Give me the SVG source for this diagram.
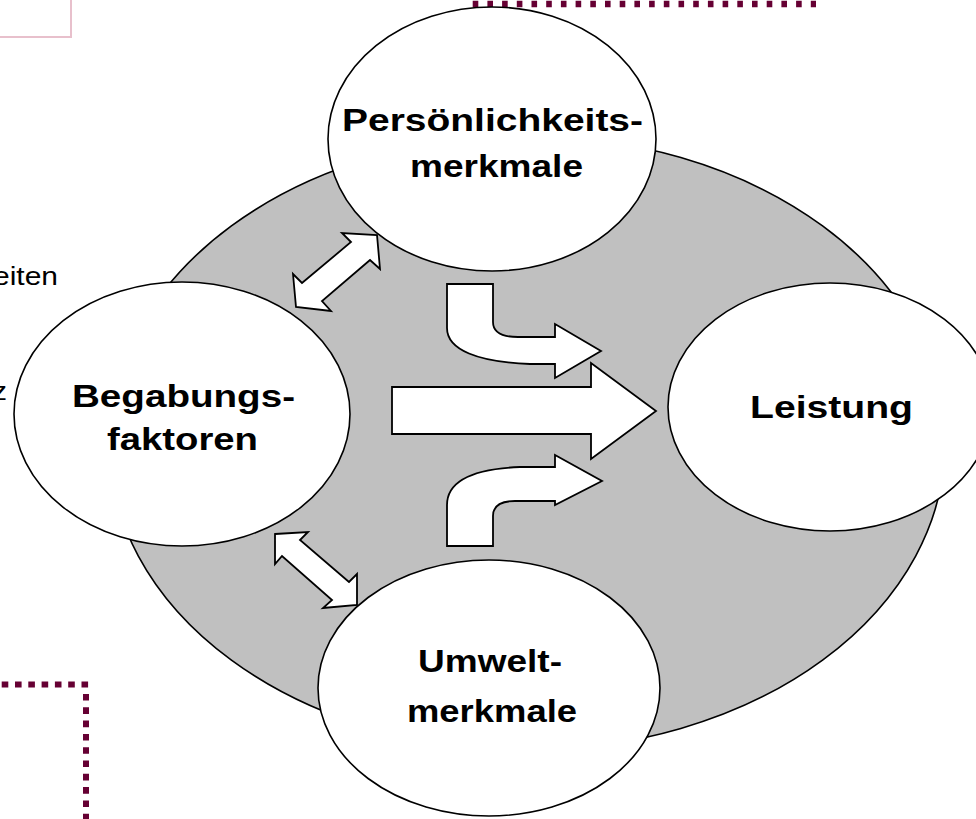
<svg xmlns="http://www.w3.org/2000/svg" width="976" height="819" viewBox="0 0 976 819">
<style>
.node{fill:#ffffff;stroke:#000000;stroke-width:1.6}
.arrow{fill:#ffffff;stroke:#000000;stroke-width:1.8;stroke-linejoin:miter}
.lbl{font-family:"Liberation Sans",Arial,sans-serif;font-weight:bold;font-size:32px;fill:#000000}
.side{font-family:"Liberation Sans",Arial,sans-serif;font-size:25px;fill:#000000}
.dot{stroke:#660033;fill:none}
</style>
<rect width="976" height="819" fill="#ffffff"/>
<g id="background">
<polyline points="0,37 71,37 71,0" fill="none" stroke="#e8c0cc" stroke-width="2"/>
<line class="dot" x1="472.7" y1="4" x2="816" y2="4" stroke-width="6.3" stroke-dasharray="5.6 9.1"/>
<line class="dot" x1="1.7" y1="684.5" x2="90" y2="684.5" stroke-width="6" stroke-dasharray="6.6 6.7"/>
<line class="dot" x1="86" y1="694" x2="86" y2="819" stroke-width="6" stroke-dasharray="6.6 6.7"/>
<text class="side" x="-7" y="285" textLength="65" lengthAdjust="spacingAndGlyphs">eiten</text>
<text class="side" x="-8" y="400" textLength="15" lengthAdjust="spacingAndGlyphs">z</text>
<ellipse id="context" cx="527" cy="443" rx="418" ry="307" fill="#c0c0c0" stroke="#000000" stroke-width="1.6"/>
</g>
<g id="connectors">
<polygon class="arrow" points="377,235 380,269 370,260 322,301 331,311 296,307 293,274 302,283 351,242 342,233"/>
<polygon class="arrow" points="275,534 308,532 300,540 349,582 357,574 357,605 323,608 332,600 282,556 275,564"/>
<polygon class="arrow" points="392,387 591,387 591,363 656,411 591,459 591,434 392,434"/>
<path class="arrow" d="M447,284 L493,284 L493,322 C493,333 502,337 518,337 L555,337 L555,324 L601,351 L555,378 L555,364 L530,364 C478,362 447,350 447,328 Z"/>
<path class="arrow" d="M447,546 L447,505 C447,482 470,469 520,467 L555,467 L555,455 L602,481 L555,505 L555,501 L515,501 C500,501 493,506 493,516 L493,546 Z"/>
</g>
<g id="persoenlichkeit">
<ellipse class="node" cx="492" cy="139" rx="164" ry="132"/>
<text class="lbl" x="342" y="131" textLength="301" lengthAdjust="spacingAndGlyphs">Persönlichkeits-</text>
<text class="lbl" x="410" y="177" textLength="173" lengthAdjust="spacingAndGlyphs">merkmale</text>
</g>
<g id="begabung">
<ellipse class="node" cx="182" cy="414" rx="168" ry="132"/>
<text class="lbl" x="72" y="407" textLength="223" lengthAdjust="spacingAndGlyphs">Begabungs-</text>
<text class="lbl" x="107" y="450" textLength="151" lengthAdjust="spacingAndGlyphs">faktoren</text>
</g>
<g id="leistung">
<ellipse class="node" cx="830" cy="407" rx="162" ry="124"/>
<text class="lbl" x="750" y="418" textLength="163" lengthAdjust="spacingAndGlyphs">Leistung</text>
</g>
<g id="umwelt">
<ellipse class="node" cx="489" cy="688" rx="171" ry="128"/>
<text class="lbl" x="418" y="672" textLength="144" lengthAdjust="spacingAndGlyphs">Umwelt-</text>
<text class="lbl" x="407" y="722" textLength="170" lengthAdjust="spacingAndGlyphs">merkmale</text>
</g>
</svg>
